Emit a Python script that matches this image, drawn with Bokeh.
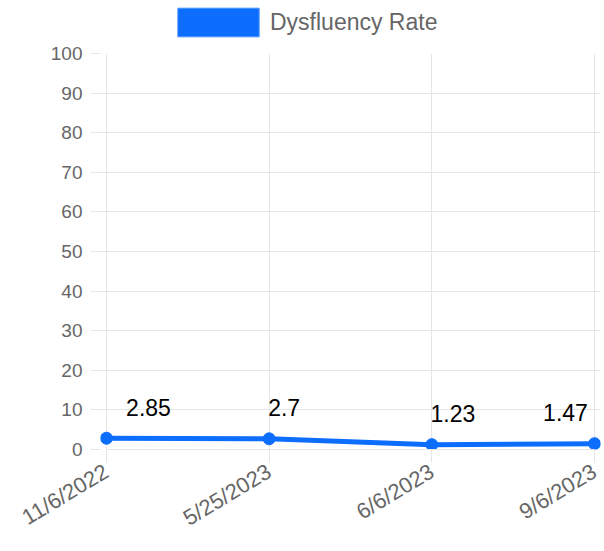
from bokeh.plotting import figure
from bokeh.layouts import column
from bokeh.models import (ColumnDataSource, Range1d, FixedTicker, Legend, LegendItem)
from bokeh.core.properties import value
from bokeh.embed import file_html
from bokeh.resources import INLINE

dates = ["11/6/2022", "5/25/2023", "6/6/2023", "9/6/2023"]
rates = [2.85, 2.7, 1.23, 1.47]
labels = ["2.85", "2.7", "1.23", "1.47"]
y_ticks = [0, 10, 20, 30, 40, 50, 60, 70, 80, 90, 100]
series_name = "Dysfluency Rate"

# label offsets (style only)
label_dx = [42, 15, 21, -29]

BLUE = "#0d6efd"
GRID = "#e5e5e5"
TICK_COLOR = "#666666"
FONT = "Liberation Sans"

idx = list(range(len(dates)))
src = ColumnDataSource(dict(x=idx, y=rates, lab=labels, dx=label_dx))

# small pad (in data units) so the end markers are not clipped by the frame
inner_w = 488.0
pad = 6.0 * (len(dates) - 1) / inner_w

# ---- legend strip ----
lg = figure(width=604, height=41, output_backend="svg", toolbar_location=None,
            x_range=Range1d(0, 1), y_range=Range1d(0, 1),
            min_border_left=0, min_border_right=0, min_border_top=0, min_border_bottom=0)
lg.axis.visible = False
lg.grid.visible = False
lg.outline_line_color = None
nan = float("nan")
dummy = lg.quad(left=[nan], right=[nan], top=[nan], bottom=[nan],
                fill_color=BLUE, line_color="#6ea8fe", line_width=1)
legend = Legend(items=[LegendItem(label=series_name, renderers=[dummy])],
                orientation="horizontal", location=(67, 1),
                glyph_width=102, glyph_height=36, label_standoff=1,
                label_text_font=FONT, label_text_font_size="23px", label_text_color=TICK_COLOR,
                padding=0, margin=0, border_line_alpha=0, background_fill_alpha=0)
lg.add_layout(legend, "center")

# ---- main chart ----
p = figure(width=604, height=507, output_backend="svg", toolbar_location=None,
           x_range=Range1d(-pad, len(dates) - 1 + pad), y_range=Range1d(0, 100),
           min_border_left=100, min_border_right=4, min_border_bottom=99, min_border_top=12)
p.outline_line_color = None
p.background_fill_color = "white"
p.border_fill_color = "white"

p.line("x", "y", source=src, line_color=BLUE, line_width=5)
p.scatter("x", "y", source=src, size=12, fill_color=BLUE, line_color=BLUE)
p.text("x", "y", text="lab", source=src, x_offset="dx", y_offset=-31,
       text_align="center", text_baseline="middle", text_color="black",
       text_font=value(FONT), text_font_size="23px")

p.xaxis.ticker = FixedTicker(ticks=idx)
p.xaxis.major_label_overrides = {i: d for i, d in enumerate(dates)}
p.xaxis.major_label_orientation = 0.54
p.xaxis.bounds = (0, len(dates) - 1)
p.yaxis.ticker = FixedTicker(ticks=y_ticks)

for ax in (p.xaxis[0], p.yaxis[0]):
    ax.axis_line_color = GRID
    ax.major_tick_line_color = GRID
    ax.major_tick_in = 0
    ax.minor_tick_line_color = None
    ax.major_label_text_font = FONT
    ax.major_label_text_color = TICK_COLOR
p.yaxis.axis_line_color = None
p.yaxis.major_tick_out = 10
p.yaxis.major_label_standoff = 8
p.yaxis.major_label_text_font_size = "19px"
p.xaxis.major_tick_out = 13
p.xaxis.major_label_standoff = 7
p.xaxis.major_label_text_font_size = "22px"

p.xgrid.grid_line_color = GRID
p.ygrid.grid_line_color = GRID

layout = column(lg, p, spacing=0)
open("out.html", "w").write(file_html(layout, INLINE))
